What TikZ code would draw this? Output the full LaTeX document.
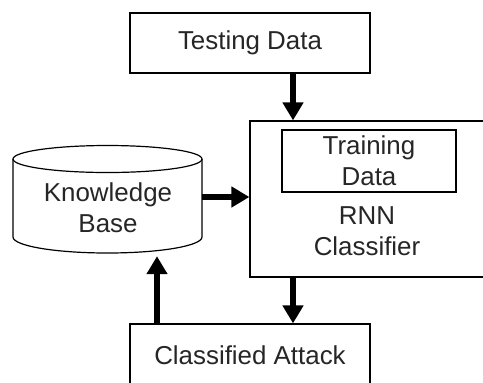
\documentclass[tikz,border=0pt]{standalone}
\usepackage{fontspec}
\setmainfont{Liberation Sans}
\usetikzlibrary{arrows.meta}
\begin{document}
\begin{tikzpicture}[x=1bp,y=-1bp,
  box/.style={draw, line width=1.2bp, inner sep=0pt},
  lbl/.style={font=\fontsize{26}{31}\selectfont, align=center, text=black!85},
  bigarrow/.style={line width=6.5bp, -{Triangle[length=18bp,width=20bp]}}]
\useasboundingbox (0,0) rectangle (483,382);
\fill[white] (0,0) rectangle (483,382);
% boxes
\node[box, minimum width=240bp, minimum height=60bp] (test) at (250,43) {};
\node[lbl] at (test) {Testing Data};
\node[box, minimum width=240bp, minimum height=156bp] (rnn) at (370,199) {};
\node[box, minimum width=174bp, minimum height=62bp] (train) at (369,161) {};
\node[lbl] at (train) {Training\\Data};
\node[lbl] (rnnlbl) at (367,231) {RNN\\Classifier};
\node[box, minimum width=240bp, minimum height=70bp] (ca) at (250,359) {};
\node[lbl] at (250,355) {Classified Attack};
% cylinder
\draw[line width=1.2bp, fill=white] (13,159) -- (13,237) arc[start angle=180, end angle=0, x radius=94.5, y radius=16] -- (202,159);
\draw[line width=1.2bp] (107.5,159) ellipse[x radius=94.5, y radius=13.5];
\node[minimum width=189bp, minimum height=108bp, inner sep=0pt] (kb) at (107.5,199) {};
\node[lbl] at (108,208) {Knowledge\\Base};
% arrows
\coordinate (tx) at (293,0);
\coordinate (kx) at (157,0);
\draw[bigarrow] (test.south -| tx) -- (rnn.north -| tx);
\draw[bigarrow] (kb.east |- 0,197) -- (rnn.west |- 0,197);
\draw[bigarrow] (rnn.south -| tx) -- (ca.north -| tx);
\draw[bigarrow] (ca.north -| kx) -- ([yshift=-3bp]kb.south -| kx);
\end{tikzpicture}
\end{document}
